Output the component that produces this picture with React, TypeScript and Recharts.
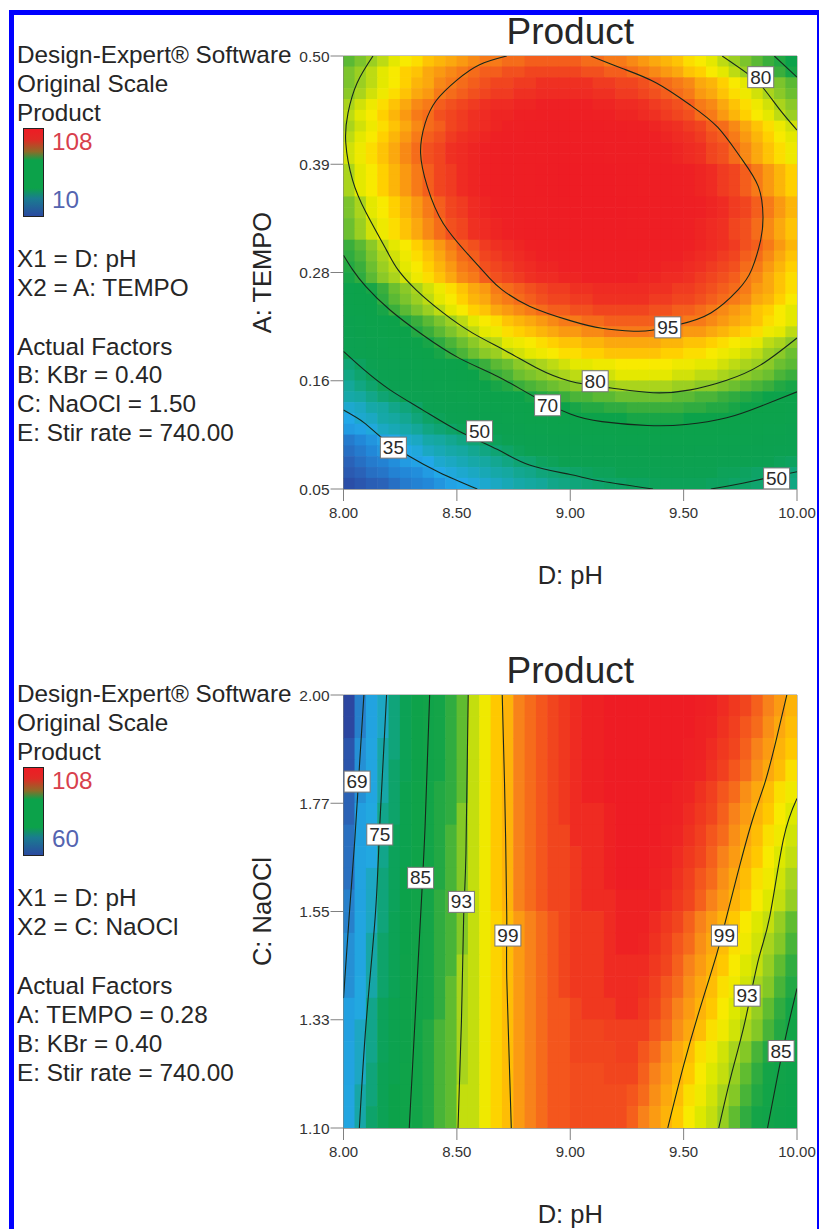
import { ScatterChart, Scatter, XAxis, YAxis, ReferenceArea } from "recharts";

const FONT = "'Liberation Sans', Arial, sans-serif";
const PLOT_W = 453.5;
const PLOT_H = 433;

const phTicks = [8, 8.5, 9, 9.5, 10];
const phLabels = ["8.00", "8.50", "9.00", "9.50", "10.00"];
const tempoTicks = [0.05, 0.1625, 0.275, 0.3875, 0.5];
const tempoLabels = ["0.05", "0.16", "0.28", "0.39", "0.50"];
const naoclTicks = [1.1, 1.325, 1.55, 1.775, 2];
const naoclLabels = ["1.10", "1.33", "1.55", "1.77", "2.00"];

// Product, top row first
const tempoGrid = [
  [76,78,80,82,84,86,87,89,90,91,92,93,94,94,95,95,96,96,96,96,96,95,95,94,94,93,92,91,90,89,87,86,84,82,80,78,76,74,72,69],
  [78,80,82,84,86,88,89,91,92,93,94,95,96,96,97,97,98,98,98,98,98,97,97,96,96,95,94,93,92,91,89,88,86,84,82,80,78,76,74,71],
  [78,80,82,84,86,88,90,91,93,94,95,96,97,98,98,99,99,100,100,100,100,100,99,99,98,98,97,96,95,94,93,91,90,88,86,84,82,80,78,76],
  [79,81,83,85,87,89,91,92,94,95,96,97,98,99,99,100,100,101,101,101,101,101,100,100,99,99,98,97,96,95,94,92,91,89,87,85,83,81,79,77],
  [81,83,85,87,89,91,93,94,96,97,98,99,100,101,101,102,102,103,103,103,103,103,102,102,101,101,100,99,98,97,96,94,93,91,89,87,85,83,81,79],
  [82,84,86,88,90,92,94,95,97,98,99,100,101,102,102,103,103,104,104,104,104,104,103,103,102,102,101,100,99,98,97,95,94,92,90,88,86,84,82,80],
  [81,83,85,87,89,91,93,95,96,98,99,100,101,102,103,103,104,104,105,105,105,105,105,104,104,103,103,102,101,100,99,98,96,95,93,91,89,87,85,83],
  [82,84,86,88,90,92,94,96,97,99,100,101,102,103,104,104,105,105,106,106,106,106,106,105,105,104,104,103,102,101,100,99,97,96,94,92,90,88,86,84],
  [83,85,87,89,91,93,95,97,98,100,101,102,103,104,105,105,106,106,107,107,107,107,107,106,106,105,105,104,103,102,101,100,98,97,95,93,91,89,87,85],
  [83,85,87,89,91,93,95,97,98,100,101,102,103,104,105,105,106,106,107,107,107,107,107,106,106,105,105,104,103,102,101,100,98,97,95,93,91,89,87,85],
  [81,84,86,88,90,92,94,96,98,99,101,102,103,104,105,106,106,107,107,108,108,108,108,108,107,107,106,106,105,104,103,102,101,99,98,96,94,92,90,88],
  [81,84,86,88,90,92,94,96,98,99,101,102,103,104,105,106,106,107,107,108,108,108,108,108,107,107,106,106,105,104,103,102,101,99,98,96,94,92,90,88],
  [81,84,86,88,90,92,94,96,98,99,101,102,103,104,105,106,106,107,107,108,108,108,108,108,107,107,106,106,105,104,103,102,101,99,98,96,94,92,90,88],
  [78,81,84,86,88,90,92,94,96,98,99,101,102,103,104,105,106,106,107,107,108,108,108,108,108,107,107,106,106,105,104,103,102,101,99,98,96,94,92,90],
  [78,81,84,86,88,90,92,94,96,98,99,101,102,103,104,105,106,106,107,107,108,108,108,108,108,107,107,106,106,105,104,103,102,101,99,98,96,94,92,90],
  [77,80,83,85,87,89,91,93,95,97,98,100,101,102,103,104,105,105,106,106,107,107,107,107,107,106,106,105,105,104,103,102,101,100,98,97,95,93,91,89],
  [77,80,83,85,87,89,91,93,95,97,98,100,101,102,103,104,105,105,106,106,107,107,107,107,107,106,106,105,105,104,103,102,101,100,98,97,95,93,91,89],
  [74,76,79,82,84,86,88,90,92,94,96,97,99,100,101,102,103,104,104,105,105,106,106,106,106,106,105,105,104,104,103,102,101,100,99,97,96,94,92,90],
  [73,75,78,81,83,85,87,89,91,93,95,96,98,99,100,101,102,103,103,104,104,105,105,105,105,105,104,104,103,103,102,101,100,99,98,96,95,93,91,89],
  [72,74,77,80,82,84,86,88,90,92,94,95,97,98,99,100,101,102,102,103,103,104,104,104,104,104,103,103,102,102,101,100,99,98,97,95,94,92,90,88],
  [71,73,76,79,81,83,85,87,89,91,93,94,96,97,98,99,100,101,101,102,102,103,103,103,103,103,102,102,101,101,100,99,98,97,96,94,93,91,89,87],
  [66,69,71,74,77,79,81,83,85,87,89,91,92,94,95,96,97,98,99,99,100,100,101,101,101,101,101,100,100,99,99,98,97,96,95,94,92,91,89,87],
  [65,68,70,73,76,78,80,82,84,86,88,90,91,93,94,95,96,97,98,98,99,99,100,100,100,100,100,99,99,98,98,97,96,95,94,93,91,90,88,86],
  [63,66,68,71,74,76,78,80,82,84,86,88,89,91,92,93,94,95,96,96,97,97,98,98,98,98,98,97,97,96,96,95,94,93,92,91,89,88,86,84],
  [58,61,64,66,69,72,74,76,78,80,82,84,86,87,89,90,91,92,93,94,94,95,95,96,96,96,96,96,95,95,94,94,93,92,91,90,89,87,86,84],
  [56,59,62,64,67,70,72,74,76,78,80,82,84,85,87,88,89,90,91,92,92,93,93,94,94,94,94,94,93,93,92,92,91,90,89,88,87,85,84,82],
  [53,56,59,61,64,67,69,71,73,75,77,79,81,82,84,85,86,87,88,89,89,90,90,91,91,91,91,91,90,90,89,89,88,87,86,85,84,82,81,79],
  [51,54,57,59,62,65,67,69,71,73,75,77,79,80,82,83,84,85,86,87,87,88,88,89,89,89,89,89,88,88,87,87,86,85,84,83,82,80,79,77],
  [45,48,51,54,56,59,62,64,66,68,70,72,74,76,77,79,80,81,82,83,84,84,85,85,86,86,86,86,86,85,85,84,84,83,82,81,80,79,77,76],
  [43,46,49,52,54,57,60,62,64,66,68,70,72,74,75,77,78,79,80,81,82,82,83,83,84,84,84,84,84,83,83,82,82,81,80,79,78,77,75,74],
  [40,43,46,49,51,54,57,59,61,63,65,67,69,71,72,74,75,76,77,78,79,79,80,80,81,81,81,81,81,80,80,79,79,78,77,76,75,74,72,71],
  [38,39,42,45,47,50,53,55,57,59,61,63,65,67,68,70,71,72,73,74,75,75,76,76,77,77,77,77,77,76,76,75,75,74,73,72,71,70,68,67],
  [35,36,38,39,42,44,47,50,52,54,56,58,60,62,64,65,67,68,69,70,71,72,72,73,73,74,74,74,74,74,73,73,72,72,71,70,69,68,67,65],
  [33,35,36,38,39,41,44,47,49,51,53,55,57,59,61,62,64,65,66,67,68,69,69,70,70,71,71,71,71,71,70,70,69,69,68,67,66,65,64,62],
  [31,32,34,36,37,38,40,43,45,47,49,51,53,55,57,58,60,61,62,63,64,65,65,66,66,67,67,67,67,67,66,66,65,65,64,63,62,61,60,58],
  [26,28,30,32,33,35,36,38,39,41,43,45,47,49,51,53,54,56,57,58,59,60,61,61,62,62,63,63,63,63,63,62,62,61,61,60,59,58,57,56],
  [24,26,28,30,31,33,34,36,37,38,39,41,43,45,47,49,50,52,53,54,55,56,57,57,58,58,59,59,59,59,59,58,58,57,57,56,55,54,53,52],
  [22,24,26,27,29,31,32,33,35,36,37,38,39,41,43,45,46,48,49,50,51,52,53,53,54,54,55,55,55,55,55,54,54,53,53,52,51,50,49,48],
  [20,22,24,25,27,28,29,31,33,34,35,36,37,38,39,41,42,44,45,46,47,48,49,49,50,50,51,51,51,51,51,50,50,49,49,48,47,46,45,44],
  [17,19,21,22,24,26,27,28,30,32,33,34,35,36,37,38,39,40,42,43,44,45,46,47,47,48,48,49,49,49,49,49,48,48,47,47,46,45,44,43],
];

const naoclGrid = [
  [64,68,71,74,77,80,83,85,87,89,91,94,96,98,99,101,102,103,104,105,106,107,107,108,108,108,108,108,108,108,108,107.5,107,106,105,104,102.5,101,100,99],
  [64,68,71,74,77,80,83,85,87,89,91,94,96,98,99,101,102,103,104,105,106,107,107,108,108,108,108,108,108,108,108,107,106.5,105.5,104.5,103,102,100.5,99.5,98.5],
  [65,69,72,75,77,80,83,85,87,89,91,94,96,98,99,101,102,103,104,105,106,107,107,108,108,108,108,108,108,108,107.5,107,106,105,104,102.5,101,100,99,98],
  [65,69,72,75,78,80,83,85,87,89,91,94,96,98,99,101,102,103,104,105,106,107,107,108,108,108,108,108,108,108,107,106.5,105.5,104.5,103,102,100.5,99.5,98.5,97],
  [66,69,72,75,78,81,84,86,88,89,91,94,96,98,99,101,102,103,104,105,106,107,107,108,108,108,108,108,108,107,106.5,105.5,104.5,103,102,100.5,99.5,98.5,97,96],
  [66,70,73,76,78,81,84,86,88,89,92,94,96,98,99,101,102,103,104,105,106,106,106,107,108,108,108,108,107.5,107,106,105,104,102.5,101,100,99,98,96.5,95],
  [67,70,73,76,79,81,84,86,88,90,92,94,96,98,99,101,102,103,104,104,106,106,106,107,108,108,108,108,107,106.5,105.5,104.5,103,102,100.5,99.5,98.5,97,96,94.5],
  [67,71,73,76,79,81,84,86,88,90,92,94,96,98,99,101,102,103,104,104,105,106,106,107,108,108,108,107.5,107,106,105,104,102.5,101,100,99,98,96.5,95,94],
  [67,71,74,77,79,82,84,86,88,90,92,94,96,98,99,101,102,103,104,104,105,106,106,107,108,108,108,107,106.5,105.5,104.5,103,102,100.5,99.5,98.5,97,96,94.5,93],
  [68,71,74,77,79,82,85,87,89,90,92,94,96,98,99,101,102,103,104,104,105,106,106,106,107,107,107,107,106,105,104,102.5,101,100,99,98,96.5,95,94,92.5],
  [68,72,74,77,80,82,85,87,89,90,92,94,96,97.5,98.5,100,101,102,103,104,105,105,105,106,107,107,107,106,105,104,102.5,101,100,99,98,96.5,95,94,92.5,91],
  [69,72,75,78,80,82,85,87,89,90,92,94,96,97.5,98.5,100,101,102,103,104,105,105,105,106,107,107,106.5,105.5,104.5,103,102,100.5,99.5,98.5,97,96,94.5,93,92,90],
  [69,72,75,78,80,83,85,87,89,90,93,94,96,97.5,98.5,100,101,102,103,104,105,105,105,106,106,106,106,105,104,102.5,101,100,99,98,96.5,95,94,92.5,91,89],
  [69,73,75,78,80,83,85,87,89,91,93,94,96,97.5,98.5,100,101,102,103,104,105,105,105,106,106,106,105.5,104.5,103,102,100.5,99.5,98.5,97,96,94.5,93,92,90,88],
  [70,73,76,79,81,83,85,87,89,91,93,94,96,97.5,98.5,100,101,102,103,103,104,105,105,105,106,106,105,104,102.5,101,100,99,98,96.5,95,94,92.5,91,89,87],
  [70,74,76,79,81,83,86,88,90,91,93,94,96,97.5,98.5,100,101,102,103,103,104,104,104,104.5,104.5,104.5,104.5,103,102,100.5,99.5,98.5,97,96,94.5,93,92,90,88,86],
  [71,74,76,79,81,83,86,88,90,91,93,94,96,97.5,98.5,100,101,102,103,103,104,104,104,104,104.5,104.5,103,102,100.5,99.5,98.5,97,96,94.5,93,92,90,88,86,84],
  [71,74,77,80,81,84,86,88,90,91,93,94,96,97.5,98.5,100,101,102,103,103,103.5,103.5,103.5,104,104,104,102.5,101,100,99,98,96.5,95,94,92.5,91,89,87,85,83],
  [72,75,77,80,82,84,86,88,90,91,94,94,96,97.5,98.5,100,101,102,103,103,103.5,103.5,103.5,103.5,103.5,103,102,100.5,99.5,98.5,97,96,94.5,93,92,90,88,86,84,82.5],
  [72,75,78,80,82,84,86,88,90,91,94,94,96,97.5,98.5,100,101,102,103,103,103.5,103.5,103.5,103.5,103.5,102.5,101,100,99,98,96.5,95,94,92.5,91,89,87,85,83,82],
];

// contour lines as [pH, y] pairs
const tempoContours = [
  [[8.72,.5],[8.6,.491],[8.5,.475],[8.41,.454],[8.36,.43],[8.34,.399],[8.37,.364],[8.44,.326],[8.56,.291],[8.645,.269],[8.7,.257],[8.82,.24],[9,.225],[9.14,.217],[9.28,.214],[9.36,.215],[9.48,.221],[9.62,.233],[9.74,.257],[9.8,.278],[9.84,.309],[9.85,.333],[9.83,.364],[9.75,.395],[9.65,.426],[9.53,.449],[9.38,.472],[9.23,.487],[9.09,.5]],
  [[8.13,.5],[8.06,.472],[8.02,.441],[8.01,.41],[8.04,.371],[8.1,.337],[8.19,.298],[8.24,.278],[8.32,.257],[8.44,.233],[8.57,.212],[8.72,.193],[8.85,.176],[9,.162],[9.18,.155],[9.365,.15],[9.53,.153],[9.69,.163],[9.84,.179],[10,.207]],
  [[9.67,.5],[9.78,.482],[9.85,.467],[9.925,.444],[10,.423]],
  [[8,.293],[8.04,.278],[8.1,.26],[8.205,.236],[8.35,.21],[8.51,.186],[8.68,.167],[8.84,.146],[9,.128],[9.14,.12],[9.34,.116],[9.51,.117],[9.69,.124],[9.84,.136],[10,.151]],
  [[9.9,.5],[10,.478]],
  [[8,.193],[8.09,.174],[8.205,.153],[8.35,.132],[8.51,.11],[8.68,.091],[8.82,.075],[9,.065],[9.14,.058],[9.365,.05]],
  [[9.62,.05],[9.76,.056],[10,.068]],
  [[8,.132],[8.09,.119],[8.17,.103],[8.29,.084],[8.425,.067],[8.59,.05]],
];

const naoclContours = [
  [[8.09,2],[8.07,1.85],[8.05,1.7],[8.025,1.54],[8,1.37]],
  [[8.19,2],[8.16,1.73],[8.14,1.54],[8.1,1.32],[8.07,1.1]],
  [[8.38,2],[8.36,1.73],[8.34,1.54],[8.315,1.32],[8.29,1.1]],
  [[8.55,2],[8.54,1.67],[8.53,1.54],[8.52,1.32],[8.505,1.1]],
  [[8.7,2],[8.71,1.82],[8.72,1.54],[8.72,1.41],[8.74,1.1]],
  [[9.955,2],[9.91,1.91],[9.86,1.82],[9.81,1.75],[9.75,1.65],[9.69,1.54],[9.645,1.46],[9.57,1.345],[9.5,1.23],[9.43,1.1]],
  [[10,1.785],[9.94,1.7],[9.88,1.54],[9.83,1.45],[9.77,1.32],[9.71,1.21],[9.655,1.1]],
  [[10,1.39],[9.955,1.3],[9.915,1.21],[9.87,1.1]],
];

const tempoTags = [
  { x: 9.84, y: 0.478, tag: 80 },
  { x: 9.43, y: 0.218, tag: 95 },
  { x: 9.11, y: 0.162, tag: 80 },
  { x: 8.9, y: 0.137, tag: 70 },
  { x: 8.6, y: 0.11, tag: 50 },
  { x: 8.22, y: 0.093, tag: 35 },
  { x: 9.91, y: 0.061, tag: 50 },
];

const naoclTags = [
  { x: 8.06, y: 1.82, tag: 69 },
  { x: 8.16, y: 1.71, tag: 75 },
  { x: 8.34, y: 1.62, tag: 85 },
  { x: 8.52, y: 1.57, tag: 93 },
  { x: 8.725, y: 1.5, tag: 99 },
  { x: 9.68, y: 1.5, tag: 99 },
  { x: 9.78, y: 1.375, tag: 93 },
  { x: 9.93, y: 1.26, tag: 85 },
];

const tempoStops: [number, string][] = [
  [15,"#2c46a0"],[22,"#2a62b8"],[28,"#2288d8"],[33,"#22a8e8"],[38,"#16a8a8"],[44,"#10a57a"],[50,"#0ca152"],
  [70,"#0ca24a"],[74,"#3aae3c"],[78,"#7cc42c"],[81,"#aad41c"],[84,"#e4e800"],[86,"#f8ea00"],[88,"#ffd000"],
  [91,"#fba80e"],[94,"#f77a18"],[97,"#f2501e"],[100,"#ef3022"],[103,"#ee2024"],[108,"#ee1c24"],
];

const naoclStops: [number, string][] = [
  [64,"#2c46a0"],[67,"#2a70c0"],[70,"#22a0e0"],[73,"#22a8e0"],[76,"#12a58a"],[79,"#0ca25a"],[82,"#0ca24a"],
  [87,"#14a448"],[89,"#30ac40"],[91,"#60bc30"],[93,"#a8d41c"],[95,"#dde800"],[96.5,"#f8ea00"],[98,"#ffc800"],
  [99.5,"#fca80e"],[101,"#f8821a"],[102.5,"#f5601c"],[103.5,"#f24c1e"],[105,"#f0381f"],[106.5,"#ee2423"],[108,"#ee1c24"],
];

const tempoNotes = [
  { text: "Design-Expert® Software", y: 55 },
  { text: "Original Scale", y: 84 },
  { text: "Product", y: 113 },
  { text: "X1 = D: pH", y: 259 },
  { text: "X2 = A: TEMPO", y: 288 },
  { text: "Actual Factors", y: 347 },
  { text: "B: KBr = 0.40", y: 375 },
  { text: "C: NaOCl = 1.50", y: 404 },
  { text: "E: Stir rate = 740.00", y: 433 },
];

const naoclNotes = [
  { text: "Design-Expert® Software", y: 694 },
  { text: "Original Scale", y: 723 },
  { text: "Product", y: 752 },
  { text: "X1 = D: pH", y: 898 },
  { text: "X2 = C: NaOCl", y: 927 },
  { text: "Actual Factors", y: 986 },
  { text: "A: TEMPO = 0.28", y: 1015 },
  { text: "B: KBr = 0.40", y: 1044 },
  { text: "E: Stir rate = 740.00", y: 1073 },
];

const hex = (c: string) => [1, 3, 5].map((i) => parseInt(c.slice(i, i + 2), 16));

const colorOf = (v: number, stops: [number, string][]) => {
  if (v <= stops[0][0]) return stops[0][1];
  for (let i = 1; i < stops.length; i++) {
    if (v <= stops[i][0]) {
      const t = (v - stops[i - 1][0]) / (stops[i][0] - stops[i - 1][0]);
      const a = hex(stops[i - 1][1]);
      const b = hex(stops[i][1]);
      return `rgb(${a.map((p, k) => Math.round(p + (b[k] - p) * t)).join(",")})`;
    }
  }
  return stops[stops.length - 1][1];
};

const Note = ({ text, y, color, x = 17 }: { text: string; y: number; color?: string; x?: number }) => (
  <div
    style={{
      position: "absolute",
      left: x,
      top: y - 15,
      height: 30,
      lineHeight: "30px",
      fontFamily: FONT,
      fontSize: 24.3,
      color: color || "#262626",
      whiteSpace: "nowrap",
    }}
  >
    {text}
  </div>
);

const ColorKey = ({ top, low }: { top: number; low: string }) => (
  <>
    <div
      style={{
        position: "absolute",
        left: 23,
        top,
        width: 19,
        height: 87,
        border: "1px solid #222",
        background:
          "linear-gradient(#ee1c25 0%, #e02a25 12%, #8f6a28 26%, #0ca24a 36%, #0ca24a 68%, #1a7c90 80%, #2a4aa0 100%)",
      }}
    />
    <Note text="108" y={top + 14} color="#d8404c" x={52} />
    <Note text={low} y={top + 72} color="#5464b0" x={52} />
  </>
);

interface PanelProps {
  top: number;
  grid: number[][];
  stops: [number, string][];
  contours: number[][][];
  tags: { x: number; y: number; tag: number }[];
  yTicks: number[];
  yLabels: string[];
  yName: string;
}

const Panel = ({ top, grid, stops, contours, tags, yTicks, yLabels, yName }: PanelProps) => {
  const yMin = yTicks[0];
  const yMax = yTicks[yTicks.length - 1];
  const rows = grid.length;
  const cols = grid[0].length;
  const cellW = PLOT_W / cols + 0.6;
  const cellH = PLOT_H / rows + 0.6;
  const cells = grid.flatMap((row, r) =>
    row.map((v, c) => ({
      x: 8 + ((c + 0.5) * 2) / cols,
      y: yMax - ((r + 0.5) * (yMax - yMin)) / rows,
      v,
    }))
  );

  return (
    <div style={{ position: "absolute", left: 0, top }}>
      <ScatterChart
        width={819}
        height={620}
        margin={{ top: 56, right: 22, bottom: 31, left: 253.5 }}
        style={{ fontFamily: FONT }}
      >
        <XAxis
          type="number"
          dataKey="x"
          domain={[8, 10]}
          ticks={phTicks}
          tickFormatter={(_v: number, i: number) => phLabels[i]}
          interval={0}
          height={100}
          tickSize={12}
          tickMargin={6}
          stroke="#808080"
          tick={{ fill: "#333", fontSize: 15 }}
          allowDataOverflow
          label={{ value: "D: pH", position: "insideBottom", offset: 5, fontSize: 25.5, fill: "#262626" }}
        />
        <YAxis
          type="number"
          dataKey="y"
          domain={[yMin, yMax]}
          ticks={yTicks}
          tickFormatter={(_v: number, i: number) => yLabels[i]}
          interval={0}
          width={90}
          tickSize={13}
          tickMargin={1}
          stroke="#808080"
          tick={{ fill: "#333", fontSize: 15.5 }}
          allowDataOverflow
          label={{
            content: ({ viewBox }: any) => {
              const lx = viewBox.x + 17;
              const ly = viewBox.y + viewBox.height / 2;
              return (
                <text
                  x={lx}
                  y={ly}
                  transform={`rotate(-90 ${lx} ${ly})`}
                  textAnchor="middle"
                  fontSize={25.5}
                  fill="#262626"
                >
                  {yName}
                </text>
              );
            },
          }}
        />
        <Scatter
          data={cells}
          isAnimationActive={false}
          shape={(p: any) => (
            <rect
              x={p.cx - cellW / 2}
              y={p.cy - cellH / 2}
              width={cellW}
              height={cellH}
              fill={colorOf(p.payload.v, stops)}
            />
          )}
        />
        {contours.map((pts, i) => (
          <Scatter
            key={i}
            data={pts.map(([x, y]) => ({ x, y }))}
            isAnimationActive={false}
            line={{ stroke: "#16281c", strokeWidth: 1.1 }}
            lineJointType="natural"
            shape={() => <g />}
          />
        ))}
        <ReferenceArea x1={8} x2={10} y1={yMin} y2={yMax} fill="none" stroke="#8a8a8a" />
        <Scatter
          data={tags}
          isAnimationActive={false}
          shape={(p: any) => (
            <g>
              <rect
                x={p.cx - 13}
                y={p.cy - 10.5}
                width={26}
                height={21}
                fill="#fff"
                stroke="#777"
                strokeWidth={1}
              />
              <text
                x={p.cx}
                y={p.cy + 6.5}
                textAnchor="middle"
                fontSize={19}
                fontFamily={FONT}
                fill="#2a2a2a"
              >
                {p.payload.tag}
              </text>
            </g>
          )}
        />
      </ScatterChart>
      <div
        style={{
          position: "absolute",
          left: 343.5,
          width: PLOT_W,
          top: 10,
          textAlign: "center",
          fontFamily: FONT,
          fontSize: 37,
          lineHeight: "44px",
          color: "#262626",
        }}
      >
        Product
      </div>
    </div>
  );
};

export default function App() {
  return (
    <div
      style={{
        position: "absolute",
        left: 0,
        top: 0,
        width: 819,
        height: 1229,
        overflow: "hidden",
        background: "#fff",
      }}
    >
      <div
        style={{
          position: "absolute",
          left: 9,
          top: 10,
          width: 802.5,
          height: 1240,
          border: "5.5px solid #0000ff",
        }}
      />
      <Panel
        top={0}
        grid={tempoGrid}
        stops={tempoStops}
        contours={tempoContours}
        tags={tempoTags}
        yTicks={tempoTicks}
        yLabels={tempoLabels}
        yName="A: TEMPO"
      />
      <Panel
        top={639}
        grid={naoclGrid}
        stops={naoclStops}
        contours={naoclContours}
        tags={naoclTags}
        yTicks={naoclTicks}
        yLabels={naoclLabels}
        yName="C: NaOCl"
      />
      {tempoNotes.map((n) => (
        <Note key={n.text} text={n.text} y={n.y} />
      ))}
      {naoclNotes.map((n) => (
        <Note key={n.text} text={n.text} y={n.y} />
      ))}
      <ColorKey top={128} low="10" />
      <ColorKey top={767} low="60" />
    </div>
  );
}
